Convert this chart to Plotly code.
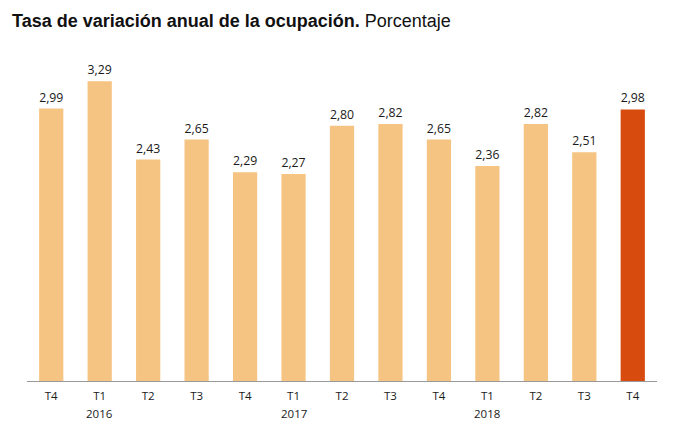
import plotly.graph_objects as go

quarters = ["T4", "T1", "T2", "T3", "T4", "T1", "T2", "T3", "T4", "T1", "T2", "T3", "T4"]
years = ["", "2016", "", "", "", "2017", "", "", "", "2018", "", "", ""]
values = [2.99, 3.29, 2.43, 2.65, 2.29, 2.27, 2.80, 2.82, 2.65, 2.36, 2.82, 2.51, 2.98]
labels = ["2,99", "3,29", "2,43", "2,65", "2,29", "2,27", "2,80", "2,82", "2,65", "2,36", "2,82", "2,51", "2,98"]

light = "#F6C482"
dark = "#D84B0E"
colors = [light] * (len(values) - 1) + [dark]
xpos = list(range(len(values)))
font_fam = "Open Sans, Liberation Sans, sans-serif"

fig = go.Figure(go.Bar(
    x=xpos, y=values, text=labels, textposition="outside",
    marker=dict(color=colors, line=dict(width=0)),
    width=0.5, cliponaxis=False,
    textfont=dict(family=font_fam, size=12.5, color="#1a1a1a"),
))

for xi, yr in zip(xpos, years):
    if yr:
        fig.add_annotation(x=xi, y=0, xref="x", yref="paper", text=yr,
                           showarrow=False, yanchor="middle", yshift=-32,
                           font=dict(family=font_fam, size=11.5, color="#1a1a1a"))

fig.update_layout(
    width=674, height=430,
    margin=dict(l=19, r=25, t=54, b=57),
    paper_bgcolor="white", plot_bgcolor="white",
    showlegend=False,
    title=dict(
        text="<b>Tasa de variación anual de la ocupación.</b> Porcentaje",
        x=0.006, xanchor="left", y=0.97, yanchor="middle",
        font=dict(family="Liberation Sans, Arial, sans-serif", size=18, color="#111111"),
    ),
    xaxis=dict(
        tickmode="array", tickvals=xpos, ticktext=quarters,
        range=[-0.5, len(values) - 0.5],
        showline=True, linecolor="#999999", linewidth=1,
        ticks="", showgrid=False, zeroline=False, ticklabelstandoff=4,
        tickfont=dict(family=font_fam, size=11.5, color="#1a1a1a"),
    ),
    yaxis=dict(range=[0, 3.5], visible=False, showgrid=False, zeroline=False),
)

fig.write_html("out.html")
